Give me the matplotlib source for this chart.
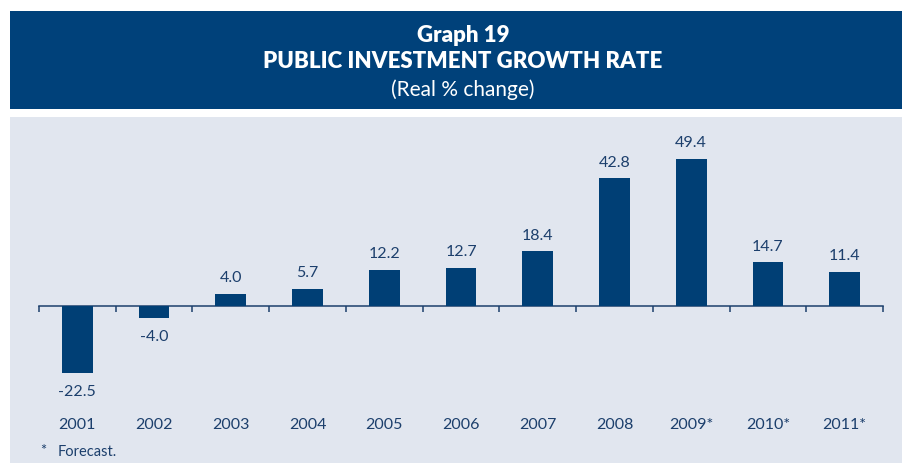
import numpy as np
import matplotlib.pyplot as plt
from matplotlib.patches import Rectangle

# data
years = ['2001', '2002', '2003', '2004', '2005', '2006',
         '2007', '2008', '2009*', '2010*', '2011*']
growth = [-22.5, -4.0, 4.0, 5.7, 12.2, 12.7, 18.4, 42.8, 49.4, 14.7, 11.4]

navy = '#00417a'
bar_col = '#003f75'
txt_col = '#1c3f6c'
panel_col = '#e1e6ef'

plt.rcParams['font.family'] = ['Lato', 'DejaVu Sans']

W, H = 902, 464
fig = plt.figure(figsize=(W / 100, H / 100), dpi=100)

# header band and light chart panel (kept behind the axes)
fig.add_artist(Rectangle((10 / W, 1 - 110 / H), 1 - 10 / W, 98 / H,
                         transform=fig.transFigure, color=navy, lw=0, zorder=-10))
fig.add_artist(Rectangle((10 / W, 0), 1 - 10 / W, 1 - 118 / H,
                         transform=fig.transFigure, color=panel_col, lw=0, zorder=-10))

fig.text(463 / W, 1 - 35 / H, 'Graph 19', color='white', fontsize=16,
         fontweight='heavy', ha='center', va='center')
fig.text(463 / W, 1 - 62 / H, 'PUBLIC INVESTMENT GROWTH RATE', color='white',
         fontsize=16, fontweight='heavy', ha='center', va='center')
fig.text(463 / W, 1 - 90 / H, '(Real % change)', color='white', fontsize=15,
         ha='center', va='center')

# axes placed so that zero sits at y=307px and 1 unit = 2.98px
ppu = 2.98
y0, y1 = -30, 55
zero_px = H - 307
ax = fig.add_axes([39 / W, (zero_px + y0 * ppu) / H,
                   844 / W, (y1 - y0) * ppu / H])
ax.set_facecolor('none')

x = np.arange(len(years))
ax.bar(x, growth, width=0.40, color=bar_col, zorder=3)

for xi, v in zip(x, growth):
    off = 12 if v >= 0 else -13
    ax.annotate(f'{v:.1f}', (xi, v), xytext=(0, off), textcoords='offset points',
                ha='center', va='center', color=txt_col, fontsize=11.5)

ax.set_xlim(-0.5, len(years) - 0.5)
ax.set_ylim(y0, y1)

for s in ['top', 'right', 'left']:
    ax.spines[s].set_visible(False)
ax.spines['bottom'].set_position(('data', 0))
ax.spines['bottom'].set_color(txt_col)
ax.spines['bottom'].set_linewidth(1.1)
ax.set_yticks([])

ax.set_xticks(np.arange(-0.5, len(years), 1.0))
ax.set_xticklabels([])
ax.tick_params(axis='x', direction='out', length=4, width=1.1, color=txt_col)

# year labels below the axis
for xi, lab in zip(x, years):
    ax.annotate(lab, (xi, 0), xytext=(0, -118 * 0.72), textcoords='offset points',
                ha='center', va='center', color=txt_col, fontsize=11.5)

fig.text(40 / W, 1 - 451 / H, '*', color=txt_col, fontsize=10.5,
         ha='left', va='center')
fig.text(58 / W, 1 - 452 / H, 'Forecast.', color=txt_col, fontsize=10.5,
         ha='left', va='center')

fig.savefig('out.png', dpi=100)
